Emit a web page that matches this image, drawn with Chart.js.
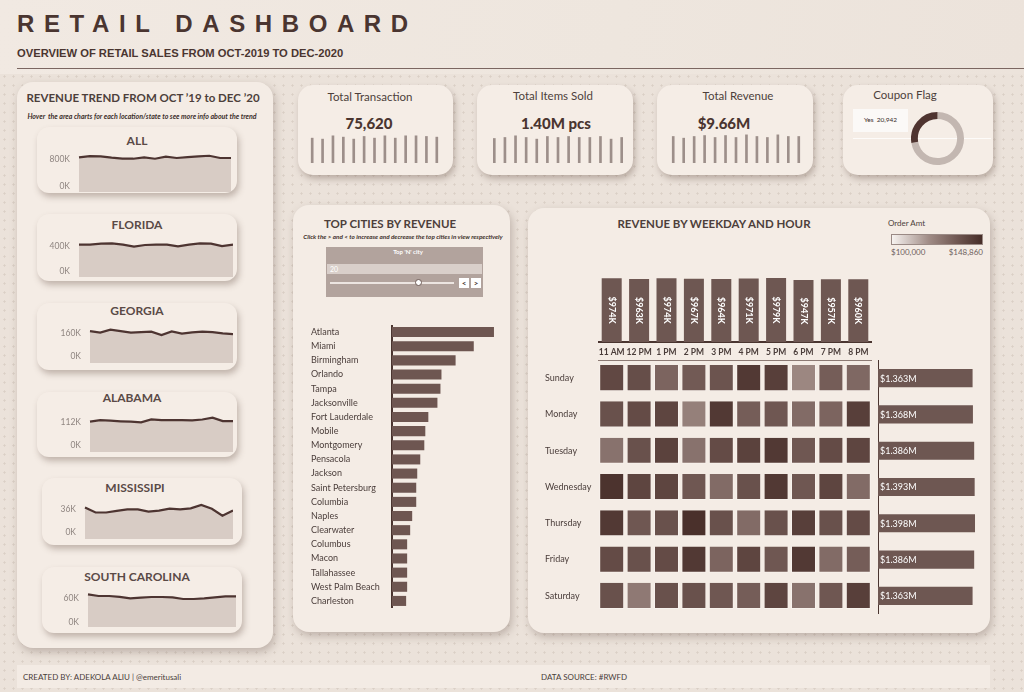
<!DOCTYPE html>
<html><head><meta charset="utf-8">
<title>Retail Dashboard</title>
<script src="https://cdn.jsdelivr.net/npm/chart.js@4.4.1/dist/chart.umd.min.js"></script>
<style>
*{box-sizing:border-box}
html,body{margin:0;padding:0}
body{width:1024px;height:692px;position:relative;overflow:hidden;background-color:#ebe2da;
 background-image:radial-gradient(circle, rgba(180,165,155,0.30) 0.9px, transparent 1.3px);background-size:9px 9px;
 font-family:Lato,'Open Sans',sans-serif;color:#4a3733}
.head{position:absolute;left:0;top:0;width:1024px;height:74px;background:linear-gradient(100deg,#f1e9e2 0%,#eee6de 60%,#ece3db 100%)}
.panel{position:absolute;background:#f4ece5;border-radius:16px;box-shadow:2px 4px 8px rgba(110,90,80,0.35)}
.card{position:absolute;background:#f5ede6;border-radius:12px;box-shadow:2px 4px 6px rgba(110,90,80,0.38)}
.t{position:absolute;white-space:nowrap;line-height:1}
.c{transform:translate(-50%,-50%)}
.l{transform:translateY(-50%)}
.ttl{font-weight:700;font-size:11.5px;color:#4d3f3b}
.st{font-weight:700;font-size:12px;color:#5a4a46}
.kt{font-size:11.5px;color:#4d3f3b}
.kv{font-weight:900;font-size:15px;color:#4a3530}
.hint{font-style:italic;font-weight:700;font-size:5.6px;color:#3d302c}
canvas{position:absolute}
</style></head>
<body>
<div class="head"></div>
<div class="t" style="left:17px;top:12px;font-family:'Liberation Sans',Arial,sans-serif;font-weight:700;font-size:24px;letter-spacing:9.6px;color:#4a3530">RETAIL DASHBOARD</div>
<div class="t" style="left:17px;top:48px;font-family:'Liberation Sans',Arial,sans-serif;font-weight:700;font-size:11.2px;color:#4a3530">OVERVIEW OF RETAIL SALES FROM OCT-2019 TO DEC-2020</div>
<div style="position:absolute;left:17px;top:68px;width:1007px;height:1px;background:#7b6661"></div>

<!-- left panel -->
<div class="panel" style="left:17px;top:82px;width:256px;height:566px"></div>
<div class="t c ttl" style="left:143px;top:98px">REVENUE TREND FROM OCT ’19 to DEC ’20</div>
<div class="t c hint" style="left:142px;top:116px;font-size:7px">Hover&nbsp; the area charts for each location/state to see more info about the trend</div>
<div class="card" style="left:37px;top:127px;width:200px;height:66px"></div>
<div class="card" style="left:37px;top:214px;width:200px;height:67px"></div>
<div class="card" style="left:37px;top:303px;width:200px;height:67px"></div>
<div class="card" style="left:37px;top:392px;width:200px;height:65px"></div>
<div class="card" style="left:42px;top:478px;width:200px;height:67px"></div>
<div class="card" style="left:42px;top:567px;width:200px;height:66px"></div>
<div class="t c st" style="left:137px;top:141px">ALL</div>
<div class="t c st" style="left:137px;top:225px">FLORIDA</div>
<div class="t c st" style="left:137px;top:311px">GEORGIA</div>
<div class="t c st" style="left:132px;top:398px">ALABAMA</div>
<div class="t c st" style="left:135px;top:488px">MISSISSIPI</div>
<div class="t c st" style="left:137px;top:577px">SOUTH CAROLINA</div>

<!-- KPI cards -->
<div class="card" style="left:298px;top:85px;width:155px;height:90px;border-radius:15px"></div>
<div class="card" style="left:477px;top:85px;width:156px;height:90px;border-radius:15px"></div>
<div class="card" style="left:657px;top:85px;width:156px;height:90px;border-radius:15px"></div>
<div class="card" style="left:843px;top:85px;width:150px;height:90px;border-radius:15px"></div>
<div class="t c kt" style="left:370px;top:97px">Total Transaction</div>
<div class="t c kt" style="left:553px;top:96px">Total Items Sold</div>
<div class="t c kt" style="left:738px;top:96px">Total Revenue</div>
<div class="t c kt" style="left:905px;top:95px">Coupon Flag</div>
<div class="t c kv" style="left:369px;top:123px">75,620</div>
<div class="t c kv" style="left:556px;top:123px">1.40M pcs</div>
<div class="t c kv" style="left:724px;top:123px">$9.66M</div>
<div style="position:absolute;left:853px;top:138px;width:138px;height:1px;background:rgba(255,255,255,0.75)"></div>
<div class="t" style="left:853px;top:109px;width:55px;height:23px;background:#fbf9f7;font-size:6.5px;color:#3a2c28;display:flex;align-items:center;justify-content:center">Yes&nbsp; 20,942</div>

<!-- top cities panel -->
<div class="panel" style="left:293px;top:205px;width:217px;height:427px"></div>
<div class="t c ttl" style="left:390px;top:224px">TOP CITIES BY REVENUE</div>
<div class="t c hint" style="left:403px;top:237px;font-size:6.3px">Click the &gt; and &lt; to increase and decrease the top cities in view respectively</div>
<div style="position:absolute;left:326px;top:247px;width:157px;height:50px;background:#b2a39d"></div>
<div class="t c" style="left:408px;top:252px;font-size:6px;font-weight:700;color:#fff">Top 'N' city</div>
<div style="position:absolute;left:327px;top:264px;width:155px;height:10px;background:#d9cfca"></div>
<div class="t l" style="left:330px;top:269px;font-size:7px;color:#fff">20</div>
<div style="position:absolute;left:330px;top:282px;width:124px;height:2px;background:#ece5e1"></div>
<div style="position:absolute;left:415px;top:279px;width:7px;height:7px;border-radius:50%;background:#fff;border:1px solid #6d5a55"></div>
<div class="t c" style="left:464px;top:283px;width:10px;height:10px;background:#fff;font-size:8px;font-weight:700;color:#4a3530;display:flex;align-items:center;justify-content:center">&lt;</div>
<div class="t c" style="left:476px;top:283px;width:10px;height:10px;background:#fff;font-size:8px;font-weight:700;color:#4a3530;display:flex;align-items:center;justify-content:center">&gt;</div>

<!-- heatmap panel -->
<div class="panel" style="left:528px;top:208px;width:462px;height:425px"></div>
<div class="t c ttl" style="left:714px;top:224px">REVENUE BY WEEKDAY AND HOUR</div>
<div class="t l" style="left:888px;top:223px;font-size:8px;color:#4d3f3b">Order Amt</div>
<div style="position:absolute;left:891px;top:234px;width:92px;height:11px;border:1px solid #9a8a85;background:linear-gradient(to right, rgb(247,243,240) 0%, rgb(160,140,134) 41%, rgb(112,88,83) 72%, rgb(70,45,40) 100%)"></div>
<div class="t l" style="left:891px;top:252px;font-size:8px;color:#6f625e">$100,000</div>
<div class="t l" style="left:983px;top:252px;font-size:8px;color:#6f625e;transform:translate(-100%,-50%)">$148,860</div>

<!-- footer -->
<div style="position:absolute;left:17px;top:665px;width:973px;height:23px;background:#f3ebe4"></div>
<div class="t l" style="left:23px;top:677px;font-size:8px;color:#4a3d3a">CREATED BY: ADEKOLA ALIU | @emeritusali</div>
<div class="t l" style="left:541px;top:677px;font-size:8px;color:#4a3d3a">DATA SOURCE: #RWFD</div>

<script>
// ---------------- DATA ----------------
const months = ['Oct 2019','Nov 2019','Dec 2019','Jan 2020','Feb 2020','Mar 2020','Apr 2020','May 2020','Jun 2020','Jul 2020','Aug 2020','Sep 2020','Oct 2020','Nov 2020','Dec 2020'];
const allRevenueK      = [857,894,885,847,817,817,857,817,876,838,866,885,904,838,838];
const floridaRevenueK  = [433,433,450,455,433,400,428,433,433,405,433,455,450,411,433];
const georgiaRevenueK  = [176,165,186,176,165,169,172,148,174,158,167,172,169,160,155];
const alabamaRevenueK  = [117,125,122,119,117,114,128,125,125,125,124,128,137,120,120];
const mississippiRevenueK = [39,31,31,33.5,36,36,32.5,34,37,36,37.5,43,37,26,34];
const southCarolinaRevenueK = [69,65,65,63,59,61,62.5,62.5,61.5,57.5,57.5,59,61.5,64,64];

const kpiMonths = ['Dec 2019','Jan 2020','Feb 2020','Mar 2020','Apr 2020','May 2020','Jun 2020','Jul 2020','Aug 2020','Sep 2020','Oct 2020','Nov 2020','Dec 2020'];
const monthlyTransactions = [5600,5380,6125,5830,5380,5980,5600,6125,5600,6125,6125,5980,5830];
const monthlyItemsK = [103.4,107.6,114.6,107.6,100.6,111.8,107.6,111.8,107.6,107.6,111.8,100.6,107.6];
const monthlyRevenueK = [742,695,742,769,714,769,714,788,742,714,788,742,742];

const couponLabels = ['No','Yes'];
const couponCounts = [54678,20942];

const cities = ['Atlanta','Miami','Birmingham','Orlando','Tampa','Jacksonville','Fort Lauderdale','Mobile','Montgomery','Pensacola','Jackson','Saint Petersburg','Columbia','Naples','Clearwater','Columbus','Macon','Tallahassee','West Palm Beach','Charleston'];
const cityRevenueK = [1010,810,630,490,480,450,360,330,320,280,250,240,240,200,180,150,150,150,150,140];

const hours = ['11 AM','12 PM','1 PM','2 PM','3 PM','4 PM','5 PM','6 PM','7 PM','8 PM'];
const hourRevenueK = [974,963,974,967,964,971,979,947,957,960];

const weekdays = ['Sunday','Monday','Tuesday','Wednesday','Thursday','Friday','Saturday'];
const weekdayRevenueM = [1.363,1.368,1.386,1.393,1.398,1.386,1.363];

const sundayK    = [141,139,132,135,137,146,144,122,134,131];
const mondayK    = [138,140,142,124,146,134,136,130,132,144];
const tuesdayK   = [128,138,143,128,140,143,146,136,140,142];
const wednesdayK = [148,142,142,136,130,138,146,136,142,130];
const thursdayK  = [146,136,138,149,138,130,138,144,138,140];
const fridayK    = [140,138,140,146,132,142,136,146,130,134];
const saturdayK  = [138,126,138,138,136,134,142,128,136,144];
const heatRows = [sundayK,mondayK,tuesdayK,wednesdayK,thursdayK,fridayK,saturdayK];

// ---------------- HELPERS ----------------
Chart.defaults.font.family = 'Lato, "Open Sans", sans-serif';
Chart.defaults.animation = false;
Chart.defaults.plugins.legend.display = false;
Chart.defaults.plugins.tooltip.enabled = false;

function mk(x,y,w,h){
  const c=document.createElement('canvas');
  c.width=w;c.height=h;c.style.left=x+'px';c.style.top=y+'px';
  c.style.width=w+'px';c.style.height=h+'px';
  document.body.appendChild(c);return c;
}
const base={responsive:false,devicePixelRatio:1,animation:false,layout:{padding:0}};
function noPad(s){s.paddingTop=0;s.paddingBottom=0;s.paddingLeft=0;s.paddingRight=0;}

// sparkline area charts
function spark(data, plotL, plotR, top, bottom, min, max, tickVal, tickLabel){
  const axisW=40;
  const c=mk(plotL-axisW, top, plotR-(plotL-axisW), bottom-top);
  new Chart(c,{type:'line',
    data:{labels:months,datasets:[{data,borderColor:'#4d3431',borderWidth:2.2,pointRadius:0,fill:'start',backgroundColor:'#d8ccc5',tension:0}]},
    options:{...base,
      scales:{
        x:{display:false,offset:false},
        y:{min,max,grid:{display:false,drawTicks:false},border:{display:false},
          afterBuildTicks:s=>{s.ticks=[{value:0},{value:tickVal}];},
          afterFit:s=>{s.width=axisW;noPad(s);},
          ticks:{padding:9,color:'#8f8580',font:{size:8.5},callback:v=>v===0?'0K':tickLabel}}
      }}});
}
spark(allRevenueK, 79,231,148,192, -155,1130, 800,'800K');
spark(floridaRevenueK, 79,233,236,277, -99,576, 400,'400K');
spark(georgiaRevenueK, 90,233,322,363, -49,240, 160,'160K');
spark(alabamaRevenueK, 90,233,412,452, -33,165, 112,'112K');
spark(mississippiRevenueK, 85,233,498,539, -11.1,54, 36,'36K');
spark(southCarolinaRevenueK, 88,236,587,627, -12.5,87.5, 60,'60K');

// KPI mini bars
function kpiBars(data, x, y, w, h){
  const c=mk(x,y,w,h);
  new Chart(c,{type:'bar',
    data:{labels:kpiMonths,datasets:[{data,backgroundColor:'#9d8f8a',barThickness:2}]},
    options:{...base,scales:{x:{display:false},y:{display:false,min:0,max:Math.max(...data)*1.03}}}});
}
kpiBars(monthlyTransactions, 307,135,135,28);
kpiBars(monthlyItemsK, 489,135,138,28);
kpiBars(monthlyRevenueK, 668,134,136,29);

// coupon doughnut
new Chart(mk(911,112,53,53),{type:'doughnut',
  data:{labels:couponLabels,datasets:[{data:couponCounts,backgroundColor:['#c3b7b1','#4f3430'],borderWidth:0}]},
  options:{...base,cutout:'74%'}});

// label plugin factory
function labelPlugin(fmt, mode, font){
  return {id:'lbl',afterDatasetsDraw(chart){
    const ctx=chart.ctx, ds=chart.data.datasets[0], meta=chart.getDatasetMeta(0);
    ctx.save();ctx.fillStyle='#ffffff';ctx.font=font;ctx.textBaseline='middle';
    meta.data.forEach((bar,i)=>{
      const txt=fmt(ds.data[i]);
      if(mode==='v'){
        ctx.save();ctx.translate(bar.x,(bar.y+bar.base)/2);ctx.rotate(Math.PI/2);
        ctx.textAlign='center';ctx.fillText(txt,0,0);ctx.restore();
      }else{
        ctx.textAlign='left';ctx.fillText(txt,bar.base+2,bar.y+0.5);
      }
    });
    ctx.restore();}};
}

// top cities
new Chart(mk(311,325,187,283),{type:'bar',
  data:{labels:cities,datasets:[{data:cityRevenueK,backgroundColor:'#6e5651',barPercentage:0.71,categoryPercentage:1}]},
  options:{...base,indexAxis:'y',
    scales:{
      x:{display:false,min:0,max:1050},
      y:{grid:{display:false,drawTicks:false},border:{display:true,color:'#4a3530',width:2},
        afterFit:s=>{s.width=81;noPad(s);},
        ticks:{crossAlign:'far',color:'#4a3d3a',font:{size:9},padding:4}}
    }}});

// revenue by hour bars
new Chart(mk(598,270,274,90),{type:'bar',
  data:{labels:hours,datasets:[{data:hourRevenueK,backgroundColor:'#6e5752',barPercentage:0.73,categoryPercentage:1}]},
  options:{...base,
    scales:{
      x:{grid:{display:false,drawTicks:false},border:{display:true,color:'#4a3530',width:2},
        afterFit:s=>{s.height=18;noPad(s);},
        ticks:{color:'#4a3d3a',font:{size:8.5,weight:'bold'},padding:5,maxRotation:0,autoSkip:false}},
      y:{display:false,min:0,max:1100}
    }},
  plugins:[labelPlugin(v=>'$'+v+'K','v','bold 9px Lato, sans-serif')]});

// heatmap (floating bars)
function heatColor(v){
  const stops=[[100,[247,243,240]],[120,[162,142,136]],[135,[114,90,85]],[148.86,[74,48,43]]];
  if(v<=stops[0][0]) return 'rgb('+stops[0][1].join(',')+')';
  for(let k=1;k<stops.length;k++){
    if(v<=stops[k][0]){
      const [a,ca]=stops[k-1],[b,cb]=stops[k];const t=(v-a)/(b-a);
      return 'rgb('+ca.map((x,j)=>Math.round(x+(cb[j]-x)*t)).join(',')+')';
    }
  }
  return 'rgb('+stops[3][1].join(',')+')';
}
new Chart(mk(545,360,327,254),{type:'bar',
  data:{labels:hours,datasets:heatRows.map((row,i)=>({
    label:weekdays[i],
    data:row.map(()=>[i-0.36,i+0.36]),
    backgroundColor:row.map(heatColor),
    borderColor:'rgba(255,255,255,0.30)',borderWidth:1,
    grouped:false,barPercentage:0.912,categoryPercentage:1}))},
  options:{...base,
    scales:{
      x:{position:'top',grid:{display:false,drawTicks:false},ticks:{display:false},
        border:{display:true,color:'#8c7a74',width:1},afterFit:s=>{noPad(s);}},
      y:{reverse:true,min:-0.5,max:6.5,grid:{display:false,drawTicks:false},border:{display:false},
        afterBuildTicks:s=>{s.ticks=weekdays.map((d,i)=>({value:i}));},
        afterFit:s=>{s.width=53;noPad(s);},
        ticks:{crossAlign:'far',color:'#4a3d3a',font:{size:9},callback:v=>weekdays[v]}}
    }}});

// weekday totals
new Chart(mk(878,360,112,254),{type:'bar',
  data:{labels:weekdays,datasets:[{data:weekdayRevenueM,backgroundColor:'#6e5752',barPercentage:0.5,categoryPercentage:1}]},
  options:{...base,indexAxis:'y',
    scales:{
      x:{display:false,min:0,max:1.614},
      y:{grid:{display:false,drawTicks:false},ticks:{display:false},border:{display:true,color:'#4a3530',width:2},
        afterFit:s=>{s.width=0;noPad(s);}}
    }},
  plugins:[labelPlugin(v=>'$'+v.toFixed(3)+'M','h','9px Lato, sans-serif')]});
</script>
</body></html>
